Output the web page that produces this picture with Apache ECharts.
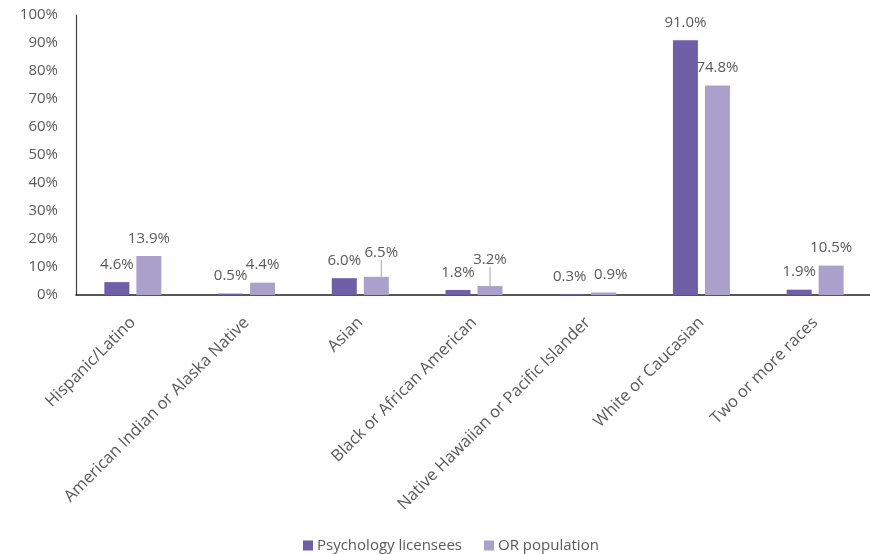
<!DOCTYPE html>
<html>
<head>
<meta charset="utf-8">
<script src="https://cdn.jsdelivr.net/npm/echarts@6/dist/echarts.min.js"></script>
<style>
  html, body { margin: 0; padding: 0; background: #fff; }
  #chart { width: 870px; height: 554px; }
</style>
</head>
<body>
<div id="chart"></div>
<script>
const categories = [
  'Hispanic/Latino',
  'American Indian or Alaska Native',
  'Asian',
  'Black or African American',
  'Native Hawaiian or Pacific Islander',
  'White or Caucasian',
  'Two or more races'
];
const licensees = [4.6, 0.5, 6.0, 1.8, 0.3, 91.0, 1.9];
const population = [13.9, 4.4, 6.5, 3.2, 0.9, 74.8, 10.5];
const yTicks = [0, 10, 20, 30, 40, 50, 60, 70, 80, 90, 100];
const seriesNames = ['Psychology licensees', 'OR population'];

const FONT = '"Open Sans", sans-serif';
const TXT = '#595959';

function pct(p) { return p.value.toFixed(1) + '%'; }

const chart = echarts.init(document.getElementById('chart'));
chart.setOption({
  animation: false,
  textStyle: { fontFamily: FONT },
  grid: { left: 76, top: 15, width: 796, bottom: 259, containLabel: false, outerBoundsMode: 'none' },
  legend: {
    left: 298, top: 533,
    itemWidth: 10, itemHeight: 10, itemGap: 22,
    icon: 'rect',
    textStyle: { color: TXT, fontSize: 15, fontFamily: FONT, padding: [0, 0, 0, -1] },
    data: seriesNames
  },
  xAxis: {
    type: 'category',
    data: categories,
    axisLine: { lineStyle: { color: '#1f1f1f', width: 1.5 } },
    axisTick: { show: false },
    axisLabel: { interval: 0, rotate: 45, margin: 25, color: TXT, fontSize: 16.5, fontFamily: FONT }
  },
  yAxis: {
    type: 'value',
    min: yTicks[0], max: yTicks[yTicks.length - 1], interval: 10,
    axisLine: { show: true, lineStyle: { color: '#404040', width: 1.2 } },
    axisTick: { show: false },
    splitLine: { show: false },
    axisLabel: { formatter: '{value}%', margin: 18, color: TXT, fontSize: 15, fontFamily: FONT, padding: [3, 0, 0, 0] }
  },
  series: [
    {
      name: seriesNames[0],
      type: 'bar',
      data: licensees,
      barWidth: 25,
      barGap: '28%',
      itemStyle: { color: '#6F5FA7' },
      label: { show: true, position: 'top', distance: 10, formatter: pct, color: TXT, fontSize: 15, fontFamily: FONT },
      labelLayout: function (p) {
        if (p.dataIndex === 4) return { dx: -2, dy: 0 };
        return {};
      }
    },
    {
      name: seriesNames[1],
      type: 'bar',
      data: population.map((v, i) => (i === 2 || i === 3)
        ? { value: v, labelLine: { show: true, lineStyle: { color: '#a6a6a6', width: 1 } } }
        : v),
      barWidth: 25,
      itemStyle: { color: '#A9A0CB' },
      label: { show: true, position: 'top', distance: 10, formatter: pct, color: TXT, fontSize: 15, fontFamily: FONT },
      labelLayout: function (p) {
        if (p.dataIndex === 2) return { dx: 5, dy: -7 };
        if (p.dataIndex === 3) return { dx: 0, dy: -9 };
        if (p.dataIndex === 4) return { dx: 7, dy: 0 };
        return {};
      }
    }
  ]
});
</script>
</body>
</html>
